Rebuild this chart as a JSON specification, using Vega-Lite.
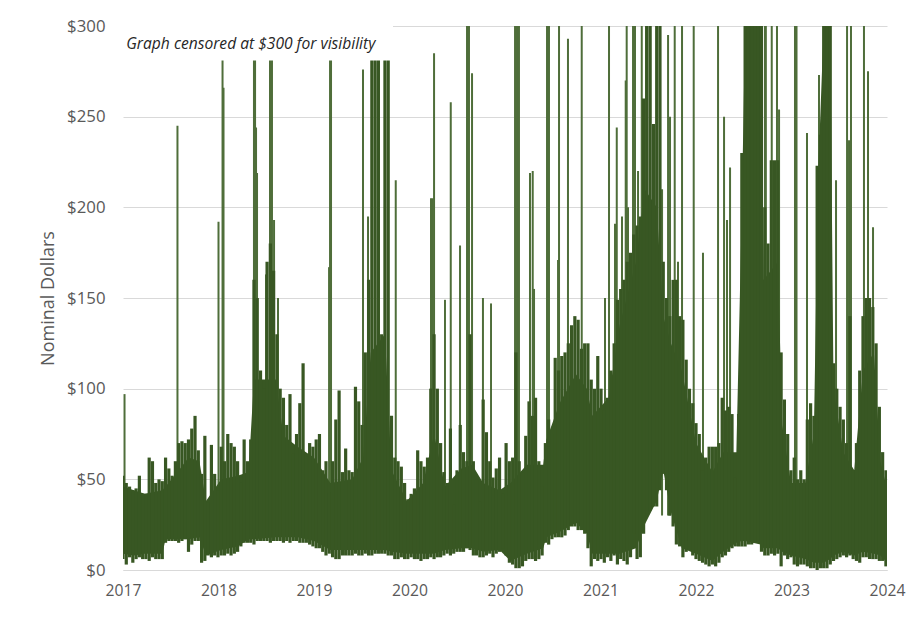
{"$schema":"https://vega.github.io/schema/vega-lite/v6.json","width":764,"height":544,"padding":{"left":123,"top":26,"right":32,"bottom":48},"autosize":{"type":"none"},"background":"white","config":{"view":{"stroke":null},"font":"Open Sans"},"layer":[{"data":{"values":[{"t":2017.014,"top":97},{"t":2017.499,"top":245},{"t":2017.875,"top":192},{"t":2017.912,"top":300},{"t":2017.921,"top":266},{"t":2018.2,"top":300},{"t":2018.21,"top":300},{"t":2018.219,"top":244},{"t":2018.228,"top":219},{"t":2018.31,"top":163},{"t":2018.347,"top":300},{"t":2018.356,"top":300},{"t":2018.365,"top":300},{"t":2018.384,"top":193},{"t":2018.42,"top":150},{"t":2018.888,"top":167},{"t":2018.897,"top":300},{"t":2018.906,"top":300},{"t":2019.199,"top":276},{"t":2019.245,"top":195},{"t":2019.428,"top":229},{"t":2019.499,"top":215},{"t":2019.822,"top":205},{"t":2019.838,"top":205},{"t":2019.85,"top":285},{"t":2019.95,"top":149},{"t":2020.003,"top":258},{"t":2020.088,"top":179},{"t":2020.152,"top":300},{"t":2020.17,"top":300},{"t":2020.198,"top":274},{"t":2020.298,"top":150},{"t":2020.372,"top":147},{"t":2020.592,"top":300},{"t":2020.61,"top":300},{"t":2020.628,"top":300},{"t":2020.729,"top":219},{"t":2020.754,"top":220},{"t":2020.766,"top":155},{"t":2020.885,"top":300},{"t":2020.903,"top":300},{"t":2020.986,"top":171},{"t":2020.995,"top":300},{"t":2021.077,"top":293},{"t":2021.203,"top":300},{"t":2021.416,"top":150},{"t":2021.453,"top":300},{"t":2021.508,"top":191},{"t":2021.524,"top":244},{"t":2021.572,"top":195},{"t":2021.606,"top":270},{"t":2021.615,"top":300},{"t":2021.627,"top":200},{"t":2021.673,"top":300},{"t":2021.691,"top":300},{"t":2021.719,"top":220},{"t":2021.753,"top":300},{"t":2021.792,"top":300},{"t":2021.939,"top":210},{"t":2021.994,"top":295},{"t":2022.012,"top":250},{"t":2022.055,"top":300},{"t":2022.085,"top":170},{"t":2022.122,"top":300},{"t":2022.229,"top":300},{"t":2022.314,"top":175},{"t":2022.452,"top":300},{"t":2022.507,"top":250},{"t":2022.534,"top":193},{"t":2022.562,"top":222},{"t":2022.882,"top":300},{"t":2022.89,"top":300},{"t":2022.944,"top":300},{"t":2022.992,"top":300},{"t":2023.011,"top":254},{"t":2023.157,"top":300},{"t":2023.171,"top":300},{"t":2023.267,"top":241},{"t":2023.377,"top":273},{"t":2023.533,"top":215},{"t":2023.634,"top":300},{"t":2023.652,"top":237},{"t":2023.67,"top":300},{"t":2023.789,"top":300},{"t":2023.826,"top":275},{"t":2023.872,"top":189}]},"mark":{"type":"rule","strokeWidth":2,"color":"#4F6E3A","clip":true},"encoding":{"x":{"field":"t","type":"quantitative","scale":{"domain":[2017,2024],"nice":false,"zero":false},"axis":{"title":null,"values":[2017,2017.875,2018.75,2019.625,2020.5,2021.375,2022.25,2023.125,2024],"labelExpr":"['2017','2018','2019','2020','2020','2021','2022','2023','2024'][round((datum.value-2017)*8/7)]","grid":false,"ticks":false,"domainColor":"#D9D9D9","labelColor":"#595959","labelFontSize":15.7,"labelPadding":13,"labelFlush":false,"labelFont":"Open Sans"}},"y":{"field":"top","type":"quantitative","scale":{"domain":[0,300],"nice":false},"axis":{"title":"Nominal Dollars","values":[0,50,100,150,200,250,300],"format":"$.0f","grid":true,"gridColor":"#D9D9D9","ticks":false,"domain":false,"labelColor":"#595959","labelFontSize":16.8,"labelPadding":18,"labelFont":"Open Sans","titleColor":"#595959","titleFontSize":18,"titleFontWeight":"normal","titleFont":"Open Sans","titlePadding":9}},"y2":{"datum":30}}},{"data":{"values":[{"t":2017.0,"lo":9,"hi":46},{"t":2017.1,"lo":8,"hi":44},{"t":2017.2,"lo":9,"hi":42},{"t":2017.36,"lo":9,"hi":44},{"t":2017.39,"lo":17,"hi":46},{"t":2017.5,"lo":17,"hi":54},{"t":2017.6,"lo":17,"hi":62},{"t":2017.7,"lo":18,"hi":60},{"t":2017.76,"lo":8,"hi":38},{"t":2017.9,"lo":11,"hi":50},{"t":2018.05,"lo":13,"hi":52},{"t":2018.15,"lo":17,"hi":54},{"t":2018.2,"lo":17,"hi":105},{"t":2018.4,"lo":18,"hi":105},{"t":2018.47,"lo":18,"hi":74},{"t":2018.6,"lo":18,"hi":68},{"t":2018.75,"lo":16,"hi":62},{"t":2018.9,"lo":11,"hi":48},{"t":2019.1,"lo":11,"hi":50},{"t":2019.2,"lo":11,"hi":62},{"t":2019.27,"lo":11,"hi":120},{"t":2019.4,"lo":11,"hi":130},{"t":2019.46,"lo":10,"hi":55},{"t":2019.6,"lo":9,"hi":38},{"t":2019.75,"lo":9,"hi":48},{"t":2019.85,"lo":9,"hi":75},{"t":2019.95,"lo":11,"hi":46},{"t":2020.1,"lo":12,"hi":56},{"t":2020.2,"lo":12,"hi":58},{"t":2020.3,"lo":10,"hi":48},{"t":2020.45,"lo":11,"hi":44},{"t":2020.55,"lo":5,"hi":48},{"t":2020.7,"lo":9,"hi":58},{"t":2020.85,"lo":12,"hi":58},{"t":2020.88,"lo":18,"hi":72},{"t":2021.0,"lo":21,"hi":92},{"t":2021.15,"lo":26,"hi":108},{"t":2021.25,"lo":20,"hi":100},{"t":2021.3,"lo":9,"hi":85},{"t":2021.45,"lo":9,"hi":95},{"t":2021.55,"lo":9,"hi":135},{"t":2021.7,"lo":12,"hi":170},{"t":2021.78,"lo":25,"hi":210},{"t":2021.89,"lo":38,"hi":200},{"t":2021.95,"lo":55,"hi":140},{"t":2022.02,"lo":32,"hi":125},{"t":2022.12,"lo":12,"hi":110},{"t":2022.25,"lo":9,"hi":70},{"t":2022.4,"lo":5,"hi":54},{"t":2022.5,"lo":10,"hi":65},{"t":2022.62,"lo":15,"hi":65},{"t":2022.67,"lo":16,"hi":200},{"t":2022.7,"lo":16,"hi":300},{"t":2022.84,"lo":14,"hi":300},{"t":2022.87,"lo":12,"hi":160},{"t":2023.0,"lo":12,"hi":170},{"t":2023.04,"lo":10,"hi":80},{"t":2023.12,"lo":8,"hi":48},{"t":2023.25,"lo":6,"hi":48},{"t":2023.33,"lo":4,"hi":75},{"t":2023.37,"lo":4,"hi":220},{"t":2023.42,"lo":4,"hi":300},{"t":2023.48,"lo":6,"hi":300},{"t":2023.51,"lo":8,"hi":100},{"t":2023.6,"lo":10,"hi":65},{"t":2023.7,"lo":8,"hi":55},{"t":2023.78,"lo":10,"hi":110},{"t":2023.88,"lo":9,"hi":120},{"t":2023.94,"lo":8,"hi":60},{"t":2024.0,"lo":4,"hi":45}]},"mark":{"type":"area","color":"#385723","clip":true},"encoding":{"x":{"field":"t","type":"quantitative"},"y":{"field":"lo","type":"quantitative"},"y2":{"field":"hi"}}},{"data":{"values":[{"t":2017.0,"lo":6,"hi":52},{"t":2017.03,"lo":3,"hi":48},{"t":2017.06,"lo":7,"hi":46},{"t":2017.09,"lo":4,"hi":44},{"t":2017.12,"lo":6,"hi":45},{"t":2017.15,"lo":7,"hi":52},{"t":2017.18,"lo":6,"hi":42},{"t":2017.21,"lo":6,"hi":42},{"t":2017.24,"lo":5,"hi":62},{"t":2017.27,"lo":7,"hi":60},{"t":2017.3,"lo":6,"hi":48},{"t":2017.33,"lo":6,"hi":50},{"t":2017.36,"lo":6,"hi":49},{"t":2017.39,"lo":15,"hi":62},{"t":2017.42,"lo":16,"hi":56},{"t":2017.45,"lo":16,"hi":52},{"t":2017.48,"lo":16,"hi":60},{"t":2017.51,"lo":15,"hi":70},{"t":2017.54,"lo":16,"hi":71},{"t":2017.57,"lo":17,"hi":70},{"t":2017.6,"lo":10,"hi":72},{"t":2017.63,"lo":14,"hi":78},{"t":2017.66,"lo":16,"hi":85},{"t":2017.69,"lo":16,"hi":66},{"t":2017.72,"lo":4,"hi":53},{"t":2017.75,"lo":5,"hi":74},{"t":2017.78,"lo":8,"hi":37},{"t":2017.81,"lo":7,"hi":69},{"t":2017.84,"lo":8,"hi":53},{"t":2017.87,"lo":7,"hi":44},{"t":2017.9,"lo":8,"hi":68},{"t":2017.93,"lo":8,"hi":60},{"t":2017.96,"lo":9,"hi":75},{"t":2017.99,"lo":8,"hi":70},{"t":2018.02,"lo":9,"hi":68},{"t":2018.05,"lo":10,"hi":60},{"t":2018.08,"lo":13,"hi":48},{"t":2018.11,"lo":15,"hi":72},{"t":2018.14,"lo":15,"hi":60},{"t":2018.17,"lo":15,"hi":72},{"t":2018.2,"lo":14,"hi":160},{"t":2018.23,"lo":16,"hi":150},{"t":2018.26,"lo":16,"hi":110},{"t":2018.29,"lo":16,"hi":100},{"t":2018.32,"lo":16,"hi":170},{"t":2018.35,"lo":15,"hi":180},{"t":2018.38,"lo":16,"hi":165},{"t":2018.41,"lo":16,"hi":130},{"t":2018.44,"lo":16,"hi":100},{"t":2018.47,"lo":15,"hi":95},{"t":2018.5,"lo":16,"hi":80},{"t":2018.53,"lo":15,"hi":97},{"t":2018.56,"lo":16,"hi":64},{"t":2018.59,"lo":16,"hi":75},{"t":2018.62,"lo":15,"hi":92},{"t":2018.65,"lo":15,"hi":114},{"t":2018.68,"lo":15,"hi":64},{"t":2018.71,"lo":14,"hi":70},{"t":2018.74,"lo":13,"hi":68},{"t":2018.77,"lo":12,"hi":72},{"t":2018.8,"lo":12,"hi":75},{"t":2018.83,"lo":10,"hi":55},{"t":2018.86,"lo":8,"hi":60},{"t":2018.89,"lo":9,"hi":43},{"t":2018.92,"lo":7,"hi":60},{"t":2018.95,"lo":6,"hi":83},{"t":2018.98,"lo":6,"hi":99},{"t":2019.01,"lo":8,"hi":54},{"t":2019.04,"lo":8,"hi":67},{"t":2019.07,"lo":8,"hi":55},{"t":2019.1,"lo":8,"hi":54},{"t":2019.13,"lo":9,"hi":101},{"t":2019.16,"lo":8,"hi":93},{"t":2019.19,"lo":8,"hi":80},{"t":2019.22,"lo":9,"hi":120},{"t":2019.25,"lo":8,"hi":160},{"t":2019.28,"lo":8,"hi":300},{"t":2019.31,"lo":9,"hi":300},{"t":2019.34,"lo":9,"hi":300},{"t":2019.37,"lo":9,"hi":130},{"t":2019.4,"lo":9,"hi":300},{"t":2019.43,"lo":8,"hi":300},{"t":2019.46,"lo":8,"hi":85},{"t":2019.49,"lo":6,"hi":62},{"t":2019.52,"lo":6,"hi":60},{"t":2019.55,"lo":7,"hi":57},{"t":2019.58,"lo":6,"hi":48},{"t":2019.61,"lo":6,"hi":39},{"t":2019.64,"lo":7,"hi":42},{"t":2019.67,"lo":6,"hi":45},{"t":2019.7,"lo":6,"hi":66},{"t":2019.73,"lo":5,"hi":60},{"t":2019.76,"lo":6,"hi":57},{"t":2019.79,"lo":6,"hi":62},{"t":2019.82,"lo":7,"hi":100},{"t":2019.85,"lo":6,"hi":130},{"t":2019.88,"lo":7,"hi":100},{"t":2019.91,"lo":7,"hi":70},{"t":2019.94,"lo":8,"hi":54},{"t":2019.97,"lo":9,"hi":48},{"t":2020.0,"lo":8,"hi":78},{"t":2020.03,"lo":9,"hi":36},{"t":2020.06,"lo":10,"hi":55},{"t":2020.09,"lo":10,"hi":80},{"t":2020.12,"lo":10,"hi":65},{"t":2020.15,"lo":12,"hi":60},{"t":2020.18,"lo":11,"hi":130},{"t":2020.21,"lo":8,"hi":60},{"t":2020.24,"lo":8,"hi":50},{"t":2020.27,"lo":7,"hi":38},{"t":2020.3,"lo":7,"hi":94},{"t":2020.33,"lo":8,"hi":76},{"t":2020.36,"lo":9,"hi":60},{"t":2020.39,"lo":7,"hi":51},{"t":2020.42,"lo":9,"hi":56},{"t":2020.45,"lo":10,"hi":62},{"t":2020.48,"lo":12,"hi":42},{"t":2020.51,"lo":8,"hi":70},{"t":2020.54,"lo":4,"hi":60},{"t":2020.57,"lo":3,"hi":62},{"t":2020.6,"lo":1,"hi":120},{"t":2020.63,"lo":1,"hi":60},{"t":2020.66,"lo":2,"hi":54},{"t":2020.69,"lo":5,"hi":74},{"t":2020.72,"lo":6,"hi":93},{"t":2020.75,"lo":6,"hi":85},{"t":2020.78,"lo":5,"hi":95},{"t":2020.81,"lo":6,"hi":60},{"t":2020.84,"lo":8,"hi":46},{"t":2020.87,"lo":15,"hi":70},{"t":2020.9,"lo":14,"hi":83},{"t":2020.93,"lo":17,"hi":75},{"t":2020.96,"lo":18,"hi":117},{"t":2020.99,"lo":18,"hi":110},{"t":2021.02,"lo":18,"hi":118},{"t":2021.05,"lo":19,"hi":120},{"t":2021.08,"lo":22,"hi":125},{"t":2021.11,"lo":24,"hi":135},{"t":2021.14,"lo":24,"hi":140},{"t":2021.17,"lo":22,"hi":138},{"t":2021.2,"lo":22,"hi":122},{"t":2021.23,"lo":20,"hi":125},{"t":2021.26,"lo":12,"hi":125},{"t":2021.29,"lo":2,"hi":105},{"t":2021.32,"lo":6,"hi":100},{"t":2021.35,"lo":5,"hi":118},{"t":2021.38,"lo":6,"hi":100},{"t":2021.41,"lo":4,"hi":88},{"t":2021.44,"lo":7,"hi":95},{"t":2021.47,"lo":5,"hi":110},{"t":2021.5,"lo":8,"hi":125},{"t":2021.53,"lo":3,"hi":149},{"t":2021.56,"lo":6,"hi":155},{"t":2021.59,"lo":5,"hi":160},{"t":2021.62,"lo":3,"hi":170},{"t":2021.65,"lo":7,"hi":175},{"t":2021.68,"lo":20,"hi":185},{"t":2021.71,"lo":6,"hi":190},{"t":2021.74,"lo":7,"hi":195},{"t":2021.77,"lo":20,"hi":260},{"t":2021.8,"lo":31,"hi":300},{"t":2021.83,"lo":33,"hi":300},{"t":2021.86,"lo":35,"hi":246},{"t":2021.89,"lo":35,"hi":300},{"t":2021.92,"lo":44,"hi":300},{"t":2021.95,"lo":53,"hi":170},{"t":2021.98,"lo":44,"hi":150},{"t":2022.01,"lo":30,"hi":140},{"t":2022.04,"lo":24,"hi":160},{"t":2022.07,"lo":14,"hi":160},{"t":2022.1,"lo":13,"hi":140},{"t":2022.13,"lo":7,"hi":138},{"t":2022.16,"lo":10,"hi":116},{"t":2022.19,"lo":16,"hi":100},{"t":2022.22,"lo":8,"hi":92},{"t":2022.25,"lo":6,"hi":81},{"t":2022.28,"lo":5,"hi":75},{"t":2022.31,"lo":4,"hi":55},{"t":2022.34,"lo":3,"hi":62},{"t":2022.37,"lo":2,"hi":68},{"t":2022.4,"lo":3,"hi":68},{"t":2022.43,"lo":2,"hi":68},{"t":2022.46,"lo":4,"hi":70},{"t":2022.49,"lo":7,"hi":95},{"t":2022.52,"lo":8,"hi":88},{"t":2022.55,"lo":10,"hi":90},{"t":2022.58,"lo":12,"hi":86},{"t":2022.61,"lo":13,"hi":51},{"t":2022.64,"lo":13,"hi":86},{"t":2022.67,"lo":13,"hi":230},{"t":2022.7,"lo":13,"hi":300},{"t":2022.73,"lo":14,"hi":300},{"t":2022.76,"lo":14,"hi":300},{"t":2022.79,"lo":15,"hi":300},{"t":2022.82,"lo":16,"hi":300},{"t":2022.85,"lo":10,"hi":300},{"t":2022.88,"lo":8,"hi":200},{"t":2022.91,"lo":8,"hi":180},{"t":2022.94,"lo":9,"hi":226},{"t":2022.97,"lo":8,"hi":226},{"t":2023.0,"lo":9,"hi":226},{"t":2023.03,"lo":2,"hi":120},{"t":2023.06,"lo":8,"hi":94},{"t":2023.09,"lo":6,"hi":75},{"t":2023.12,"lo":7,"hi":55},{"t":2023.15,"lo":3,"hi":62},{"t":2023.18,"lo":2,"hi":50},{"t":2023.21,"lo":3,"hi":55},{"t":2023.24,"lo":3,"hi":50},{"t":2023.27,"lo":2,"hi":83},{"t":2023.3,"lo":1,"hi":92},{"t":2023.33,"lo":1,"hi":85},{"t":2023.36,"lo":0,"hi":223},{"t":2023.39,"lo":1,"hi":240},{"t":2023.42,"lo":1,"hi":300},{"t":2023.45,"lo":1,"hi":300},{"t":2023.48,"lo":3,"hi":300},{"t":2023.51,"lo":5,"hi":114},{"t":2023.54,"lo":6,"hi":100},{"t":2023.57,"lo":7,"hi":90},{"t":2023.6,"lo":8,"hi":83},{"t":2023.63,"lo":7,"hi":70},{"t":2023.66,"lo":8,"hi":140},{"t":2023.69,"lo":6,"hi":55},{"t":2023.72,"lo":5,"hi":70},{"t":2023.75,"lo":4,"hi":110},{"t":2023.78,"lo":7,"hi":140},{"t":2023.81,"lo":7,"hi":150},{"t":2023.84,"lo":6,"hi":150},{"t":2023.87,"lo":6,"hi":145},{"t":2023.9,"lo":6,"hi":125},{"t":2023.93,"lo":5,"hi":90},{"t":2023.96,"lo":5,"hi":65},{"t":2023.99,"lo":2,"hi":55}]},"mark":{"type":"rule","strokeWidth":3.2,"color":"#385723","clip":true},"encoding":{"x":{"field":"t","type":"quantitative"},"y":{"field":"lo","type":"quantitative"},"y2":{"field":"hi"}}},{"data":{"values":[{"a":2017,"b":2019.474,"c":281,"d":302}]},"mark":{"type":"rect","color":"white"},"encoding":{"x":{"field":"a","type":"quantitative"},"x2":{"field":"b"},"y":{"field":"c","type":"quantitative"},"y2":{"field":"d"}}},{"data":{"values":[{"a":2017.03,"c":290,"label":"Graph censored at $300 for visibility"}]},"mark":{"type":"text","align":"left","baseline":"middle","fontStyle":"italic","fontSize":15.6,"color":"#262626","font":"Open Sans"},"encoding":{"x":{"field":"a","type":"quantitative"},"y":{"field":"c","type":"quantitative"},"text":{"field":"label"}}}]}
